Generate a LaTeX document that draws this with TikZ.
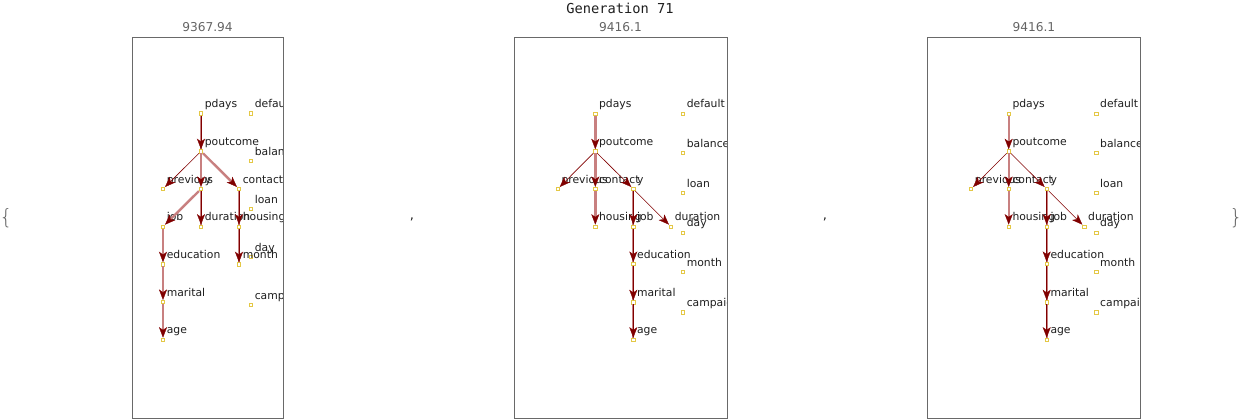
\documentclass[tikz,border=0pt]{standalone}
\usepackage{fontspec}
\setmainfont{DejaVu Sans}
\newfontfamily\monof{DejaVu Sans Mono}
\newfontfamily\lightf{DejaVu Sans ExtraLight}
\usetikzlibrary{arrows.meta}
\definecolor{dr}{RGB}{128,0,0}
\definecolor{pk}{RGB}{200,128,128}
\definecolor{yl}{RGB}{228,200,70}
\definecolor{fr}{RGB}{105,105,105}
\definecolor{tg}{RGB}{100,100,100}
\definecolor{tx}{RGB}{30,30,30}
\tikzset{
  x=1pt, y=-1pt,
  >={Stealth[length=10.5pt,width=8pt,inset=2.8pt,color=dr,line width=0.3pt]},
  sq/.style={rectangle, draw=yl, fill=white, line width=0.7pt, minimum size=3.4pt, inner sep=0pt},
  lab/.style={anchor=base west, inner sep=0pt, text=tx, font=\fontsize{10.8}{12}\selectfont},
  eA/.style={->, draw=dr, line width=0.6pt},
  eB/.style={->, draw=dr, line width=0.9pt, preaction={draw=pk, line width=2pt, -}},
  eC/.style={->, draw=pk, line width=2.4pt},
  frame/.style={draw=fr, line width=0.8pt},
  ttl/.style={text=tg, font=\fontsize{12.2}{14}\selectfont, inner sep=0pt},
  brc/.style={inner sep=0pt, text=tg, font=\lightf\fontsize{21}{23}\selectfont},
}
\newcommand\gn[4]{\node[sq] (#1) at (#2,#3) {}; \node[lab] (#1l) at (#2+3.6,#3-6) {#4};}
\newcommand\panelB[2]{%
\begin{scope}[xshift=#2pt]
\begin{scope}
\clip (514,37) rectangle (727,418);
\gn{#1pd}{595.3}{113.7}{pdays}
\gn{#1de}{683}{113.7}{default}
\gn{#1po}{595.3}{151.3}{poutcome}
\gn{#1ba}{683}{153}{balance}
\gn{#1pr}{557.7}{189}{previous}
\gn{#1co}{595.3}{189}{contact}
\gn{#1y}{633.3}{189}{y}
\gn{#1lo}{683}{193}{loan}
\gn{#1ho}{595.3}{226.7}{housing}
\gn{#1jo}{633.3}{226.7}{job}
\gn{#1du}{671}{226.7}{duration}
\gn{#1da}{683}{232.7}{day}
\gn{#1ed}{633.3}{264}{education}
\gn{#1mo}{683}{272}{month}
\gn{#1ma}{633.3}{302.3}{marital}
\gn{#1ca}{683}{312.3}{campaign}
\gn{#1ag}{633.3}{339.7}{age}
\draw[eC] (#1pd) -- (#1po);
\draw[eA] (#1po) -- (#1pr);
\draw[eC] (#1po) -- (#1co);
\draw[eA] (#1po) -- (#1y);
\draw[eC] (#1co) -- (#1ho);
\draw[eB] (#1y) -- (#1jo);
\draw[eA] (#1y) -- (#1du);
\draw[eB] (#1jo) -- (#1ed);
\draw[eB] (#1ed) -- (#1ma);
\draw[eB] (#1ma) -- (#1ag);
\end{scope}
\draw[frame] (514,37) rectangle (727,418);
\node[ttl] (#1t) at (620.5,27) {9416.1};
\end{scope}}
\begin{document}
\begin{tikzpicture}
\path[use as bounding box] (0,0) rectangle (1242,420);
\node[inner sep=0pt, text=tx, font=\monof\fontsize{13.7}{15}\selectfont] (gen) at (620,8) {Generation 71};
\node[brc] (lb) at (6,218.5) {\{};
\node[brc] (rb) at (1236,218.5) {\}};
\node[inner sep=0pt, text=tx, font=\fontsize{13}{15}\selectfont] (c1) at (412,219) {,};
\node[inner sep=0pt, text=tx, font=\fontsize{13}{15}\selectfont] (c2) at (825,219) {,};
% panel 1
\begin{scope}
\clip (132,37) rectangle (283,418);
\gn{apd}{201}{113.5}{pdays}
\gn{ade}{251}{113.5}{default}
\gn{apo}{201}{151.3}{poutcome}
\gn{aba}{251}{161}{balance}
\gn{apr}{163}{189}{previous}
\gn{ay}{201}{189}{y}
\gn{aco}{239}{189}{contact}
\gn{alo}{251}{209}{loan}
\gn{ajo}{163}{226.7}{job}
\gn{adu}{201}{226.7}{duration}
\gn{aho}{239}{226.7}{housing}
\gn{ada}{251}{257}{day}
\gn{aed}{163}{264.3}{education}
\gn{amo}{239}{264.3}{month}
\gn{ama}{163}{302}{marital}
\gn{aca}{251}{305}{campaign}
\gn{aag}{163}{339.7}{age}
\draw[eB] (apd) -- (apo);
\draw[eA] (apo) -- (apr);
\draw[eC] (apo) -- (ay);
\draw[eC] (apo) -- (aco);
\draw[eC] (ay) -- (ajo);
\draw[eB] (ay) -- (adu);
\draw[eB] (aco) -- (aho);
\draw[eC] (ajo) -- (aed);
\draw[eC] (aed) -- (ama);
\draw[eC] (ama) -- (aag);
\draw[eB] (aho) -- (amo);
\end{scope}
\draw[frame] (132,37) rectangle (283,418);
\node[ttl] (at) at (207.5,27) {9367.94};
% panels 2 and 3
\panelB{b}{0}
\panelB{c}{413.4}
\end{tikzpicture}
\end{document}
